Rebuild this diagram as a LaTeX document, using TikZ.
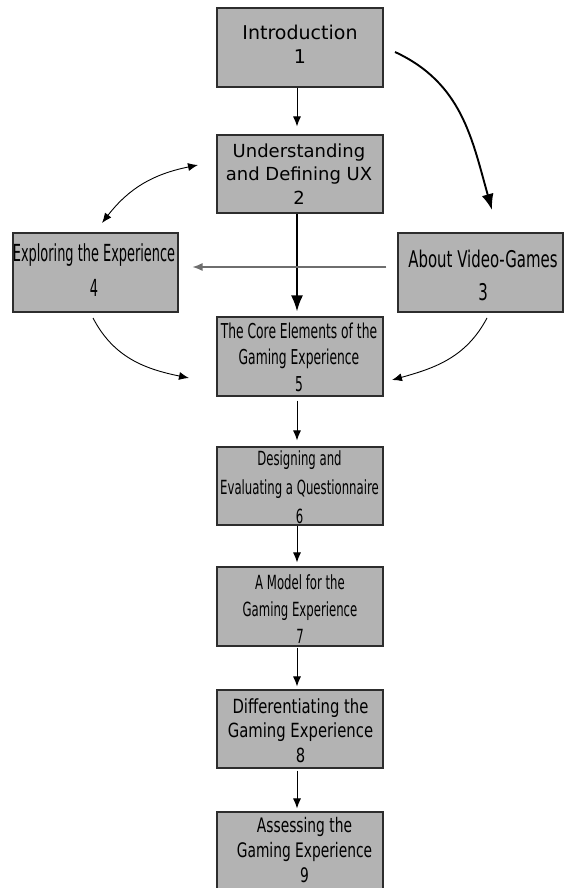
\documentclass[tikz,border=0pt]{standalone}
\usepackage{fontspec}
\setmainfont{DejaVu Sans}
% horizontally squeezed cuts of the same face
\newfontfamily\narrowA[FakeStretch=0.55]{DejaVu Sans}
\newfontfamily\narrowB[FakeStretch=0.65]{DejaVu Sans}
\newfontfamily\narrowC[FakeStretch=0.60]{DejaVu Sans}
\newfontfamily\narrowD[FakeStretch=0.76]{DejaVu Sans}
\newfontfamily\narrowE[FakeStretch=0.69]{DejaVu Sans}
\usetikzlibrary{arrows.meta}
\definecolor{boxgray}{RGB}{179,179,179}
\definecolor{boxedge}{RGB}{45,45,45}
\definecolor{sideline}{RGB}{110,110,110}

\begin{document}
\begin{tikzpicture}[x=1pt,y=-1pt,
  box/.style={draw=boxedge, line width=1.1pt, fill=boxgray,
    minimum width=166pt, minimum height=79pt, inner sep=0pt},
  caption/.style={align=center, inner sep=0pt, anchor=center},
  flow/.style={line width=1.0pt, -{Latex[length=10pt,width=8pt]}},
  bigflow/.style={line width=1.9pt, -{Latex[length=16pt,width=12pt]}},
  curvedflow/.style={line width=0.9pt, -{Latex[length=10pt,width=8pt]}},
  twoway/.style={line width=0.9pt, {Latex[length=10pt,width=8pt]}-{Latex[length=10pt,width=8pt]}},
  sideflow/.style={draw=sideline, line width=1.2pt, -{Latex[length=10pt,width=8pt]}}
]
\path[use as bounding box, fill=white] (0,0) rectangle (565,888);
\clip (0,0) rectangle (565,888);

% chapter boxes
\node[box] (b1) at (300,47.5) {};
\node[box, minimum height=78pt] (b2) at (300,174) {};
\node[box, minimum width=165pt] (b4) at (95.5,272.5) {};
\node[box, minimum width=165pt] (b3) at (480.5,272.5) {};
\node[box] (b5) at (300,356.5) {};
\node[box, minimum height=78pt] (b6) at (300,486) {};
\node[box] (b7) at (300,606.5) {};
\node[box, minimum height=78pt] (b8) at (300,729) {};
\node[box, minimum height=78pt] (b9) at (300,851) {};

% chapter titles
\node[caption, font=\fontsize{19}{24}\selectfont] (t1) at (300,44) {Introduction\\1};
\node[caption, font=\fontsize{18}{23.5}\selectfont] (t2) at (299,174) {Understanding\\and Defining UX\\2};
\node[caption, font=\narrowA\fontsize{23.5}{35}\selectfont] (t4) at (94,270.5) {Exploring the Experience\\4};
\node[caption, font=\narrowB\fontsize{23}{33}\selectfont] (t3) at (483,275) {About Video-Games\\3};
\node[caption, font=\narrowC\fontsize{20.5}{26.5}\selectfont] (t5) at (299,357) {The Core Elements of the\\Gaming Experience\\5};
\node[caption, font=\narrowC\fontsize{19.5}{29}\selectfont] (t6) at (299.5,487) {Designing and\\Evaluating a Questionnaire\\6};
\node[caption, font=\narrowC\fontsize{19.5}{27}\selectfont] (t7) at (300,609) {A Model for the\\Gaming Experience\\7};
\node[caption, font=\narrowD\fontsize{19.5}{24.5}\selectfont] (t8) at (300.5,730.5) {Differentiating the\\Gaming Experience\\8};
\node[caption, font=\narrowE\fontsize{20}{25}\selectfont] (t9) at (304.5,850) {Assessing the\\Gaming Experience\\9};

% free ends of the curved connectors
\coordinate (introOut) at (395,52);
\coordinate (gamesIn) at (492,210);
\coordinate (uxSide) at (198,165);
\coordinate (expTop) at (102,223);
\coordinate (expOut) at (93,318);
\coordinate (coreLeft) at (189,378);
\coordinate (gamesOut) at (487,318);
\coordinate (coreRight) at (392,380);

% main reading order
\draw[flow, shorten >=8pt] ([xshift=-3pt]b1.south) -- ([xshift=-3pt]b2.north);
\draw[bigflow, shorten >=5pt] ([xshift=-3pt]b2.south) -- ([xshift=-3pt]b5.north);
\draw[flow, shorten <=4pt, shorten >=6pt] ([xshift=-3pt]b5.south) -- ([xshift=-3pt]b6.north);
\draw[flow, shorten >=4pt] ([xshift=-3pt]b6.south) -- ([xshift=-3pt]b7.north);
\draw[flow, shorten <=1pt, shorten >=3pt] ([xshift=-3pt]b7.south) -- ([xshift=-3pt]b8.north);
\draw[flow, shorten <=2pt, shorten >=3pt] ([xshift=-3pt]b8.south) -- ([xshift=-3pt]b9.north);

% side paths
\draw[bigflow] (introOut) .. controls (462,83) and (472,139) .. (gamesIn);
\draw[sideflow] ([shift={(-11,-5.5)}]b3.west) -- ([shift={(14,-5.5)}]b4.east);
\draw[twoway] (expTop) .. controls (129.5,187.5) and (154,174) .. (uxSide);
\draw[curvedflow] (expOut) .. controls (113.7,357.6) and (145,369) .. (coreLeft);
\draw[curvedflow] (gamesOut) .. controls (466,357.6) and (435,368) .. (coreRight);
\end{tikzpicture}
\end{document}
